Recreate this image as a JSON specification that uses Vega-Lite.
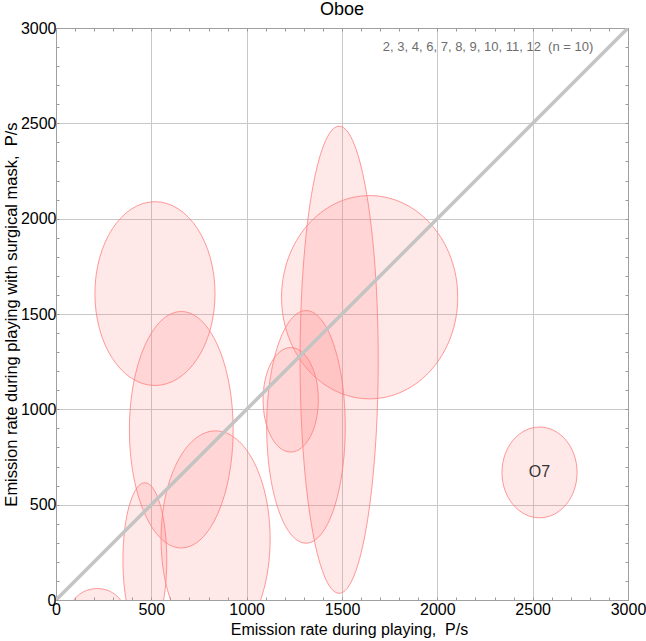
{
  "$schema": "https://vega.github.io/schema/vega-lite/v6.json",
  "width": 572,
  "height": 572,
  "autosize": "none",
  "padding": {"left": 56, "top": 28, "right": 18, "bottom": 41},
  "background": "white",
  "config": {"view": {"stroke": "#a0a0a0"}, "font": "Liberation Sans"},
  "title": {"text": "Oboe", "fontSize": 18, "fontWeight": "normal", "color": "#000000", "baseline": "alphabetic", "offset": 12, "dy": 25, "font": "Liberation Sans"},
  "datasets": {
    "ellipses": [
      {"x": 519, "y": 1607, "rx": 315, "ry": 482, "label": ""},
      {"x": 657, "y": 893, "rx": 272, "ry": 620, "label": ""},
      {"x": 837, "y": 320, "rx": 286, "ry": 567, "label": ""},
      {"x": 466, "y": 210, "rx": 115, "ry": 405, "label": ""},
      {"x": 216, "y": -70, "rx": 145, "ry": 130, "label": ""},
      {"x": 1231, "y": 1050, "rx": 145, "ry": 274, "label": ""},
      {"x": 1311, "y": 908, "rx": 206, "ry": 610, "label": ""},
      {"x": 1485, "y": 1260, "rx": 205, "ry": 1225, "label": ""},
      {"x": 1645, "y": 1588, "rx": 462, "ry": 533, "label": ""},
      {"x": 2536, "y": 669, "rx": 197, "ry": 238, "label": "O7"}
    ],
    "diagonal": [{"x": 0, "y": 0}, {"x": 3000, "y": 3000}]
  },
  "layer": [
    {
      "data": {"name": "ellipses"},
      "transform": [
        {"calculate": "max(datum.rx, datum.ry)", "as": "m"},
        {"calculate": "datum.rx / datum.m", "as": "a"},
        {"calculate": "datum.ry / datum.m", "as": "b"},
        {"calculate": "'M ' + (-datum.a) + ' 0 A ' + datum.a + ' ' + datum.b + ' 0 1 0 ' + datum.a + ' 0 A ' + datum.a + ' ' + datum.b + ' 0 1 0 ' + (-datum.a) + ' 0 Z'", "as": "path"},
        {"calculate": "4 * datum.m * datum.m", "as": "area"}
      ],
      "mark": {"type": "point", "filled": true, "fill": "#ff8080", "fillOpacity": 0.18, "stroke": "#ff8080", "strokeWidth": 1, "strokeOpacity": 0.8, "opacity": 1, "clip": true},
      "encoding": {
        "x": {
          "field": "x", "type": "quantitative",
          "scale": {"domain": [0, 3000], "nice": false, "zero": false},
          "axis": {
            "orient": "bottom",
            "values": [0,100,200,300,400,500,600,700,800,900,1000,1100,1200,1300,1400,1500,1600,1700,1800,1900,2000,2100,2200,2300,2400,2500,2600,2700,2800,2900,3000],
            "format": "d",
            "labelExpr": "datum.value % 500 === 0 ? datum.label : ''",
            "labelOverlap": false, "labelFlush": false, "labelBound": false,
            "title": "Emission rate during playing,\u00a0 P/s",
            "titleFontSize": 16, "titleFontWeight": "normal", "titleColor": "#000000", "titlePadding": 4, "titleX": 293,
            "grid": true, "gridColor": "#c8c8c8",
            "gridOpacity": {"condition": {"test": "datum.value % 500 === 0", "value": 1}, "value": 0},
            "tickSize": -3, "tickColor": "#999999", "domainColor": "#a0a0a0",
            "labelFontSize": 16, "labelColor": "#000000", "labelPadding": 4
          }
        },
        "y": {
          "field": "y", "type": "quantitative",
          "scale": {"domain": [0, 3000], "nice": false, "zero": false},
          "axis": {
            "orient": "left",
            "values": [0,100,200,300,400,500,600,700,800,900,1000,1100,1200,1300,1400,1500,1600,1700,1800,1900,2000,2100,2200,2300,2400,2500,2600,2700,2800,2900,3000],
            "format": "d",
            "labelExpr": "datum.value % 500 === 0 ? datum.label : ''",
            "labelOverlap": false, "labelFlush": false, "labelBound": false,
            "title": "Emission rate during playing with surgical mask,\u00a0 P/s",
            "titleFontSize": 16.5, "titleFontWeight": "normal", "titleColor": "#000000", "titlePadding": 1,
            "grid": true, "gridColor": "#c8c8c8",
            "gridOpacity": {"condition": {"test": "datum.value % 500 === 0", "value": 1}, "value": 0},
            "tickSize": -3, "tickColor": "#999999", "domainColor": "#a0a0a0",
            "labelFontSize": 16, "labelColor": "#000000", "labelPadding": 3
          }
        },
        "shape": {"field": "path", "type": "nominal", "scale": null, "legend": null},
        "size": {"field": "area", "type": "quantitative", "scale": {"type": "linear", "domain": [0, 10000000], "range": [0, 363538], "zero": true, "nice": false}, "legend": null}
      }
    },
    {
      "data": {"name": "diagonal"},
      "mark": {"type": "line", "color": "#c4c4c4", "strokeWidth": 3.5, "clip": true},
      "encoding": {
        "x": {
          "field": "x", "type": "quantitative",
          "axis": {
            "orient": "top",
            "values": [0,100,200,300,400,500,600,700,800,900,1000,1100,1200,1300,1400,1500,1600,1700,1800,1900,2000,2100,2200,2300,2400,2500,2600,2700,2800,2900,3000],
            "labels": false, "title": null, "grid": false,
            "tickSize": -3, "tickColor": "#999999", "domainColor": "#a0a0a0"
          }
        },
        "y": {
          "field": "y", "type": "quantitative",
          "axis": {
            "orient": "right",
            "values": [0,100,200,300,400,500,600,700,800,900,1000,1100,1200,1300,1400,1500,1600,1700,1800,1900,2000,2100,2200,2300,2400,2500,2600,2700,2800,2900,3000],
            "labels": false, "title": null, "grid": false,
            "tickSize": -3, "tickColor": "#999999", "domainColor": "#a0a0a0"
          }
        }
      }
    },
    {
      "data": {"name": "ellipses"},
      "mark": {"type": "text", "fontSize": 16, "color": "#333333", "align": "center", "baseline": "middle", "font": "Liberation Sans"},
      "encoding": {
        "x": {"field": "x", "type": "quantitative", "axis": null},
        "y": {"field": "y", "type": "quantitative", "axis": null},
        "text": {"field": "label"}
      }
    },
    {
      "data": {"values": [{}]},
      "mark": {"type": "text", "text": "2, 3, 4, 6, 7, 8, 9, 10, 11, 12\u00a0 (n = 10)", "fontSize": 13, "color": "#6e6e6e", "align": "right", "baseline": "alphabetic", "font": "Liberation Sans"},
      "encoding": {
        "x": {"datum": 2818, "type": "quantitative", "axis": null},
        "y": {"datum": 2878, "type": "quantitative", "axis": null}
      }
    }
  ],
  "resolve": {"axis": {"x": "independent", "y": "independent"}}
}
